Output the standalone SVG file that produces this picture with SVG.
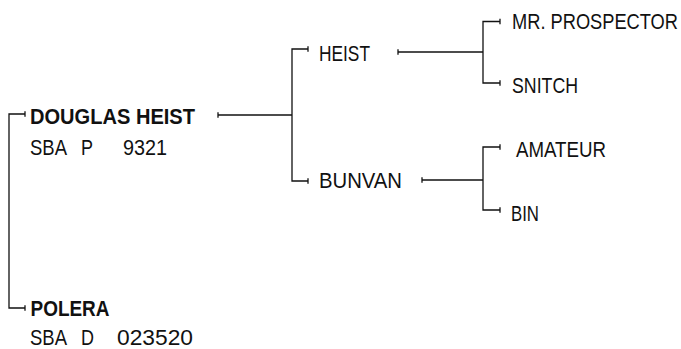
<svg xmlns="http://www.w3.org/2000/svg" width="681" height="349" viewBox="0 0 681 349">
<style>
  .ln{fill:none;stroke:#111;stroke-width:1.3;}
  .t{font-family:"Liberation Sans",Arial,sans-serif;font-size:22.5px;fill:#111;}
  .b{font-weight:bold;}
</style>
<defs>
  <marker id="tick" markerUnits="userSpaceOnUse" markerWidth="4" markerHeight="8" viewBox="-2 -4 4 8" refX="0" refY="0" orient="auto" overflow="visible">
    <path d="M0,-2.8 L0,2.8" stroke="#111" stroke-width="1.3" fill="none"/>
  </marker>
</defs>
<rect width="681" height="349" fill="#fff"/>
<g id="connectors">
  <path class="ln" d="M25,114 H9 V308 H25" marker-start="url(#tick)" marker-end="url(#tick)"/>
  <path class="ln" d="M218,115 H292" marker-start="url(#tick)"/>
  <path class="ln" d="M308,49 H292 V181 H308" marker-start="url(#tick)" marker-end="url(#tick)"/>
  <path class="ln" d="M398,52 H483" marker-start="url(#tick)"/>
  <path class="ln" d="M500,21.5 H483 V83 H500" marker-start="url(#tick)" marker-end="url(#tick)"/>
  <path class="ln" d="M422,180 H483" marker-start="url(#tick)"/>
  <path class="ln" d="M500,147 H483 V210 H500" marker-start="url(#tick)" marker-end="url(#tick)"/>
</g>
<g id="douglas-heist">
  <text class="t b" x="30" y="124" textLength="165" lengthAdjust="spacingAndGlyphs">DOUGLAS HEIST</text>
  <text class="t" y="155"><tspan x="30" textLength="37" lengthAdjust="spacingAndGlyphs">SBA</tspan><tspan x="81" textLength="12" lengthAdjust="spacingAndGlyphs">P</tspan><tspan x="123" textLength="44" lengthAdjust="spacingAndGlyphs">9321</tspan></text>
</g>
<g id="polera">
  <text class="t b" x="30.5" y="316" textLength="79" lengthAdjust="spacingAndGlyphs">POLERA</text>
  <text class="t" y="344.5"><tspan x="30" textLength="37" lengthAdjust="spacingAndGlyphs">SBA</tspan><tspan x="81" textLength="13" lengthAdjust="spacingAndGlyphs">D</tspan><tspan x="117" textLength="76" lengthAdjust="spacingAndGlyphs">023520</tspan></text>
</g>
<g id="heist">
  <text class="t" x="319" y="61" textLength="51" lengthAdjust="spacingAndGlyphs">HEIST</text>
</g>
<g id="bunvan">
  <text class="t" x="319" y="188" textLength="83" lengthAdjust="spacingAndGlyphs">BUNVAN</text>
</g>
<g id="mr-prospector">
  <text class="t" x="512" y="29" textLength="166" lengthAdjust="spacingAndGlyphs">MR. PROSPECTOR</text>
</g>
<g id="snitch">
  <text class="t" x="512" y="92.5" textLength="66" lengthAdjust="spacingAndGlyphs">SNITCH</text>
</g>
<g id="amateur">
  <text class="t" x="516" y="157" textLength="90" lengthAdjust="spacingAndGlyphs">AMATEUR</text>
</g>
<g id="bin">
  <text class="t" x="511" y="221" textLength="28" lengthAdjust="spacingAndGlyphs">BIN</text>
</g>
</svg>
